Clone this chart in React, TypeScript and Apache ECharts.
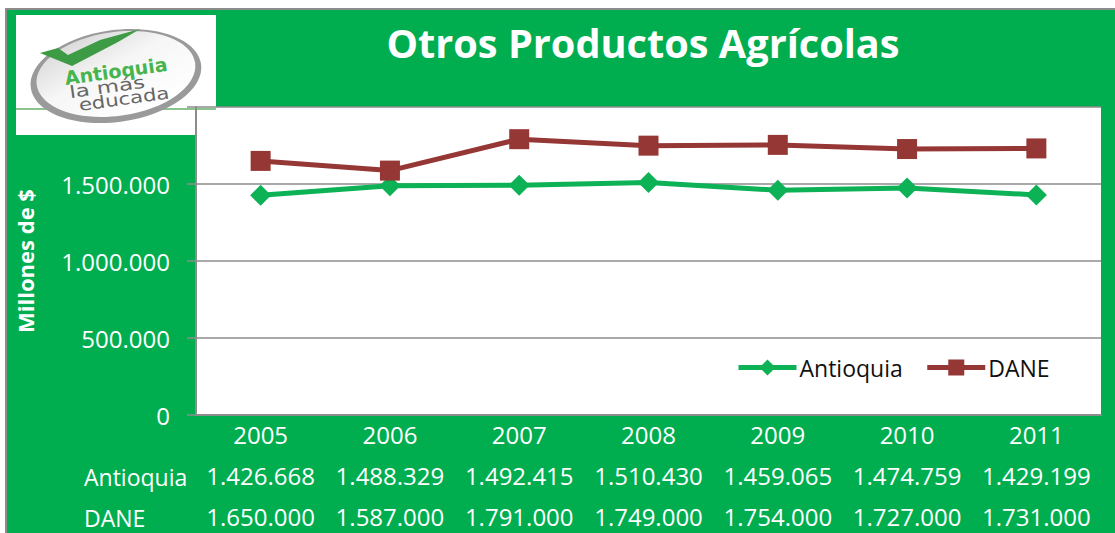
import React, { useEffect, useRef } from "react";
import * as echarts from "echarts";

const years = ["2005", "2006", "2007", "2008", "2009", "2010", "2011"];
const antioquia = [1426668, 1488329, 1492415, 1510430, 1459065, 1474759, 1429199];
const dane = [1650000, 1587000, 1791000, 1749000, 1754000, 1727000, 1731000];
const titleText = "Otros Productos Agrícolas";
const yAxisName = "Millones de $";

const GREEN = "#00AE50";
const LINE_GREEN = "#0DB156";
const RED = "#953735";
const GRAY = "#8C8C8C";
const FONT = "'Open Sans', sans-serif";

const fmt = (v: number) => String(v).replace(/\B(?=(\d{3})+(?!\d))/g, ".");

export default function App() {
  const ref = useRef<HTMLDivElement>(null);
  useEffect(() => {
    document.body.style.margin = "0";
    const chart = echarts.init(ref.current!, undefined, { renderer: "svg" });
    const logoText = (text: string, x: number, y: number, fill: string, fontSize: number, scaleX: number, fontWeight = 400) => ({
      type: "text",
      x,
      y,
      scaleX,
      rotation: (8 * Math.PI) / 180,
      style: { text, fill, fontSize, fontWeight, fontFamily: "'DejaVu Sans', sans-serif", align: "center", verticalAlign: "middle" },
    });
    chart.setOption({
      animation: false,
      backgroundColor: "transparent",
      textStyle: { fontFamily: FONT },
      title: {
        text: titleText,
        left: 638,
        top: 18,
        textAlign: "center",
        textStyle: { color: "#fff", fontSize: 39.7, fontWeight: 700, fontFamily: FONT },
      },
      grid: { left: 196, right: 14, top: 107, bottom: 118, show: true, backgroundColor: "#fff", borderWidth: 0, outerBoundsMode: "none" },
      legend: {
        left: 731,
        top: 351,
        itemWidth: 58,
        itemHeight: 20,
        itemGap: 22,
        textStyle: { color: "#111", fontSize: 23, fontFamily: FONT, padding: [0, 0, 0, -2] },
        data: [
          { name: "Antioquia", itemStyle: { color: LINE_GREEN } },
          { name: "DANE", itemStyle: { color: RED } },
        ],
        lineStyle: { width: 5 },
      },
      xAxis: {
        type: "category",
        data: years,
        boundaryGap: true,
        axisTick: { show: false },
        axisLine: { lineStyle: { color: GRAY, width: 2 } },
        axisLabel: {
          color: "#fff",
          fontSize: 24,
          fontFamily: FONT,
          lineHeight: 41,
          margin: -1,
          interval: 0,
          formatter: (v: string, i: number) => `${v}\n${fmt(antioquia[i])}\n${fmt(dane[i])}`,
        },
      },
      yAxis: {
        type: "value",
        min: 0,
        max: 2000000,
        interval: 500000,
        name: yAxisName,
        nameLocation: "middle",
        nameRotate: 90,
        nameGap: 160,
        nameTextStyle: { color: "#fff", fontSize: 22, fontWeight: 700, fontFamily: FONT },
        axisLine: { show: true, lineStyle: { color: GRAY, width: 2 } },
        axisTick: { show: true, length: 9, lineStyle: { color: GRAY, width: 1.5 } },
        axisLabel: {
          color: "#fff",
          fontSize: 24,
          fontFamily: FONT,
          margin: 26,
          formatter: (v: number) => (v >= 2000000 ? "" : fmt(v)),
        },
        splitLine: { show: true, lineStyle: { color: GRAY, width: 1.5 } },
      },
      series: [
        {
          name: "Antioquia",
          type: "line",
          data: antioquia,
          symbol: "diamond",
          symbolSize: 21,
          lineStyle: { color: LINE_GREEN, width: 5 },
          itemStyle: { color: LINE_GREEN },
        },
        {
          name: "DANE",
          type: "line",
          data: dane,
          symbol: "rect",
          symbolSize: 20,
          lineStyle: { color: RED, width: 5 },
          itemStyle: { color: RED },
        },
      ],
      graphic: {
        elements: [
          { type: "text", z: 20, x: 84, y: 477, style: { text: "Antioquia", fill: "#fff", fontSize: 23, fontFamily: FONT, verticalAlign: "middle" } },
          { type: "text", z: 20, x: 84, y: 518, style: { text: "DANE", fill: "#fff", fontSize: 23, fontFamily: FONT, verticalAlign: "middle" } },
          {
            type: "group",
            z: 20,
            children: [
              { type: "rect", shape: { x: 16, y: 15, width: 200, height: 120 }, style: { fill: "#fff" } },
              { type: "rect", shape: { x: 16, y: 108, width: 200, height: 2 }, style: { fill: "#8CC48F" } },
              {
                type: "ellipse",
                originX: 116,
                originY: 76,
                rotation: (8 * Math.PI) / 180,
                shape: { cx: 116, cy: 76, rx: 86, ry: 46 },
                style: { fill: "#9A9A9A" },
              },
              {
                type: "ellipse",
                originX: 116,
                originY: 74,
                rotation: (8 * Math.PI) / 180,
                shape: { cx: 116, cy: 74, rx: 80, ry: 42 },
                style: {
                  fill: new echarts.graphic.LinearGradient(0, 0, 0.7, 1, [
                    { offset: 0, color: "#D0D0D0" },
                    { offset: 0.5, color: "#F6F6F6" },
                    { offset: 1, color: "#FFFFFF" },
                  ]),
                },
              },
              {
                type: "polygon",
                shape: { points: [[40, 53], [58, 48], [68, 55], [100, 40], [140, 29], [118, 42], [72, 66]] },
                style: { fill: "#3E9B45" },
              },
              logoText("Antioquia", 116, 71, "#46B54F", 19, 1.0, 700),
              logoText("la más", 107, 87, "#666", 17, 1.35),
              logoText("educada", 124, 99, "#666", 17, 1.25),
            ],
          },
        ],
      },
    });
    return () => chart.dispose();
  }, []);
  return (
    <div style={{ position: "relative", width: 1115, height: 533, background: "#fff", overflow: "hidden" }}>
      <div
        style={{
          position: "absolute",
          left: 5,
          top: 8,
          width: 1115,
          height: 540,
          background: GREEN,
          borderLeft: "2px solid #8C8C8C",
          borderTop: "2px solid #8C8C8C",
        }}
      />
      <div ref={ref} style={{ position: "absolute", left: 0, top: 0, width: 1115, height: 533 }} />
    </div>
  );
}
